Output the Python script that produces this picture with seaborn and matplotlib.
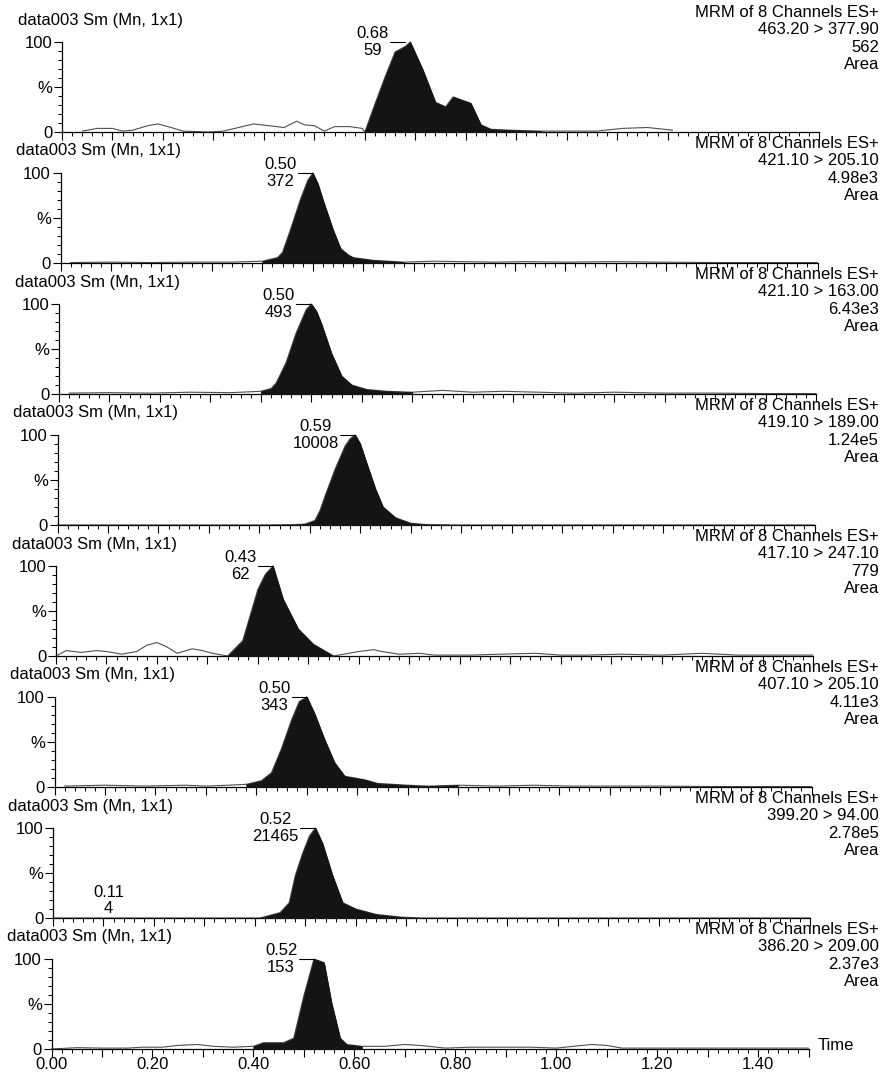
import numpy as np
import pandas as pd
import seaborn as sns
import matplotlib.pyplot as plt
from matplotlib.ticker import MultipleLocator, FuncFormatter

# chromatogram traces, time (min) vs relative intensity (%)
t1 = [0.04, 0.07, 0.10, 0.12, 0.14, 0.17, 0.19, 0.21, 0.24, 0.29, 0.32, 0.35, 0.38, 0.41, 0.44,
      0.465, 0.48, 0.50, 0.52, 0.54, 0.57, 0.595, 0.60, 0.62, 0.64, 0.66, 0.68, 0.69, 0.715, 0.74,
      0.76, 0.775, 0.79, 0.81, 0.83, 0.85, 0.89, 0.95, 1.00, 1.06, 1.11, 1.16, 1.21]
y1 = [1, 4, 4, 1, 2, 7, 9, 6, 1, 0, 1, 5, 9, 7, 5, 12, 8, 7, 1, 6, 6, 4, 0, 31, 61, 89, 95, 100,
      69, 33, 28, 39, 36, 32, 8, 3, 2, 1, 1, 1, 4, 5, 2]

t2 = [0.02, 0.10, 0.18, 0.26, 0.34, 0.40, 0.43, 0.44, 0.455, 0.475, 0.49, 0.50, 0.51, 0.52, 0.54,
      0.555, 0.57, 0.58, 0.62, 0.68, 0.74, 0.80, 0.86, 0.92, 1.00, 1.10, 1.18, 1.30, 1.40, 1.50]
y2 = [0.5, 1, 0.5, 1, 1, 2, 6, 12, 36, 70, 92, 100, 88, 70, 37, 16, 9, 6, 3, 1, 2, 1.5, 1, 1.5,
      1, 1.5, 1, 0.5, 0.5, 0.5]

t3 = [0.02, 0.10, 0.18, 0.26, 0.34, 0.40, 0.42, 0.43, 0.45, 0.47, 0.49, 0.50, 0.51, 0.52, 0.54,
      0.56, 0.58, 0.61, 0.65, 0.70, 0.76, 0.82, 0.88, 0.95, 1.02, 1.10, 1.20, 1.30, 1.40, 1.50]
y3 = [1, 1.5, 1, 2, 1.5, 3, 6, 12, 35, 68, 94, 100, 92, 78, 45, 20, 10, 5, 3, 2, 4, 2, 3, 2, 1,
      2, 1, 1, 0.5, 0.5]

t4 = [0.00, 0.20, 0.40, 0.47, 0.49, 0.51, 0.52, 0.53, 0.55, 0.57, 0.58, 0.59, 0.60, 0.61, 0.63,
      0.645, 0.67, 0.70, 0.73, 0.80, 1.00, 1.20, 1.50]
y4 = [0, 0, 0, 0.5, 1, 5, 16, 32, 62, 88, 96, 100, 90, 73, 40, 20, 8, 2, 0.5, 0, 0, 0, 0]

t5 = [0.00, 0.02, 0.05, 0.08, 0.10, 0.13, 0.16, 0.18, 0.20, 0.22, 0.24, 0.27, 0.29, 0.31, 0.34,
      0.37, 0.40, 0.415, 0.43, 0.45, 0.48, 0.51, 0.55, 0.57, 0.60, 0.63, 0.645, 0.68, 0.72, 0.75,
      0.82, 0.88, 0.95, 1.00, 1.05, 1.12, 1.20, 1.28, 1.35, 1.42, 1.50]
y5 = [0, 6, 4, 6, 5, 2, 5, 12, 15, 10, 3, 8, 6, 3, 0, 17, 74, 91, 100, 63, 30, 13, 0, 2, 5, 7, 5,
      2, 3, 1, 1, 2, 3, 1, 1, 2, 1, 3, 1, 1, 1]

t6 = [0.02, 0.10, 0.18, 0.26, 0.30, 0.345, 0.38, 0.41, 0.43, 0.45, 0.47, 0.485, 0.50, 0.515,
      0.535, 0.555, 0.575, 0.615, 0.64, 0.70, 0.74, 0.80, 0.88, 0.95, 1.02, 1.10, 1.20, 1.30, 1.40,
      1.50]
y6 = [1, 2, 1, 2, 1, 2, 3, 7, 16, 43, 75, 95, 100, 82, 53, 27, 12, 8, 4, 2, 1, 2, 1, 2, 1, 1, 1,
      0.5, 0.5, 0.5]

t7 = [0.00, 0.20, 0.41, 0.45, 0.468, 0.48, 0.494, 0.508, 0.52, 0.534, 0.554, 0.574, 0.60, 0.64,
      0.69, 0.73, 0.80, 1.00, 1.20, 1.50]
y7 = [0, 0, 0, 6, 17, 47, 71, 91, 100, 83, 47, 17, 10, 4, 1, 0, 0, 0, 0, 0]

t8 = [0.00, 0.05, 0.10, 0.15, 0.18, 0.22, 0.25, 0.29, 0.32, 0.36, 0.40, 0.42, 0.46, 0.48, 0.50,
      0.52, 0.54, 0.555, 0.572, 0.585, 0.615, 0.66, 0.70, 0.73, 0.78, 0.83, 0.90, 0.95, 1.00, 1.07,
      1.10, 1.13, 1.20, 1.30, 1.40, 1.50]
y8 = [0, 1.5, 1, 1, 2, 2, 4, 5, 3, 2, 3, 7, 7, 12, 59, 100, 96, 51, 12, 5, 3, 3, 5, 4, 1, 2, 2, 2,
      1, 5, 4, 1, 1, 1, 1, 1]

traces_t = [t1, t2, t3, t4, t5, t6, t7, t8]
traces_y = [y1, y2, y3, y4, y5, y6, y7, y8]

# integrated (shaded) peak windows
fill_windows = [(0.60, 0.95), (0.40, 0.68), (0.40, 0.70), (0.47, 0.80),
                (0.34, 0.55), (0.38, 0.80), (0.41, 0.73), (0.40, 0.615)]

channels = ["463.20 > 377.90", "421.10 > 205.10", "421.10 > 163.00", "419.10 > 189.00",
            "417.10 > 247.10", "407.10 > 205.10", "399.20 > 94.00", "386.20 > 209.00"]
areas = ["562", "4.98e3", "6.43e3", "1.24e5", "779", "4.11e3", "2.78e5", "2.37e3"]
peak_rt = [0.68, 0.50, 0.50, 0.59, 0.43, 0.50, 0.52, 0.52]
peak_label_rt = ["0.68", "0.50", "0.50", "0.59", "0.43", "0.50", "0.52", "0.52"]
peak_height = ["59", "372", "493", "10008", "62", "343", "21465", "153"]

# small labelled peak in channel 7
minor_rt = 0.11
minor_label = "0.11\n4"

sample_title = "data003 Sm (Mn, 1x1)"
func_title = "MRM of 8 Channels ES+"

sns.set_style("ticks")
plt.rcParams['font.family'] = ['Liberation Sans', 'DejaVu Sans']
plt.rcParams['text.color'] = 'black'
plt.rcParams['xtick.color'] = 'black'
plt.rcParams['ytick.color'] = 'black'
FS = 12

W, H = 881, 1075
fig = plt.figure(figsize=(W / 100, H / 100), dpi=100)

TOP = 132      # pixel row of the first panel's baseline
STEP = 131     # vertical distance between panels


def bottom_labels(v, pos):
    k = int(round(v * 10))
    return f"{v:.2f}" if k % 2 == 0 else ""


for i in range(8):
    x0 = 62 - 1.5 * i
    base = TOP + STEP * i
    ax = fig.add_axes([x0 / W, 1 - base / H, 757 / W, 90 / H])

    t = np.array(traces_t[i])
    y = np.array(traces_y[i])
    df = pd.DataFrame({"t": t, "y": y})
    sns.lineplot(data=df, x="t", y="y", ax=ax, color="#505050", lw=0.8, clip_on=False)

    a, b = fill_windows[i]
    m = (t >= a - 1e-9) & (t <= b + 1e-9)
    ax.fill_between(t[m], 0, y[m], color="#141414", lw=0.6, ec="#141414", clip_on=False, zorder=3)

    ax.set_xlim(0, 1.5)
    ax.set_ylim(0, 100)
    ax.set_xlabel("")
    ax.set_ylabel("")
    sns.despine(ax=ax)
    for s in ("left", "bottom"):
        ax.spines[s].set_linewidth(0.9)
        ax.spines[s].set_color("black")

    ax.set_yticks([0, 50, 100])
    ax.set_yticklabels(["0", "%", "100"])
    ax.yaxis.set_minor_locator(MultipleLocator(10))
    ax.xaxis.set_major_locator(MultipleLocator(0.1))
    ax.xaxis.set_minor_locator(MultipleLocator(0.02))
    ax.tick_params(which="major", length=6, width=0.8, labelsize=FS, pad=1)
    ax.tick_params(which="minor", length=3, width=0.7)
    if i == 7:
        ax.xaxis.set_major_formatter(FuncFormatter(bottom_labels))
        ax.tick_params(axis="x", pad=0)
    else:
        ax.tick_params(axis="x", labelbottom=False)

    # apex marker and label
    rt = peak_rt[i]
    ax.plot([rt - 0.03, rt], [100, 100], color="black", lw=0.8, clip_on=False)
    ax.text(rt - 0.033, 100, f"{peak_label_rt[i]}\n{peak_height[i]}", ha="right", va="center",
            multialignment="center", fontsize=FS, linespacing=1.1)

    if i == 6:
        ax.text(minor_rt, 2, minor_label, ha="center", va="bottom", multialignment="center",
                fontsize=FS, linespacing=1.1)

    fig.text((18 - 1.6 * i) / W, 1 - (base - 112) / H, sample_title,
             ha="left", va="center", fontsize=FS)
    fig.text(879 / W, 1 - (base - 127) / H, f"{func_title}\n{channels[i]}\n{areas[i]}\nArea",
             ha="right", va="top", multialignment="right", fontsize=FS, linespacing=1.2)

fig.text(818 / W, 1 - (TOP + STEP * 7 - 4) / H, "Time", ha="left", va="center", fontsize=FS)

fig.savefig("out.png", dpi=100)
